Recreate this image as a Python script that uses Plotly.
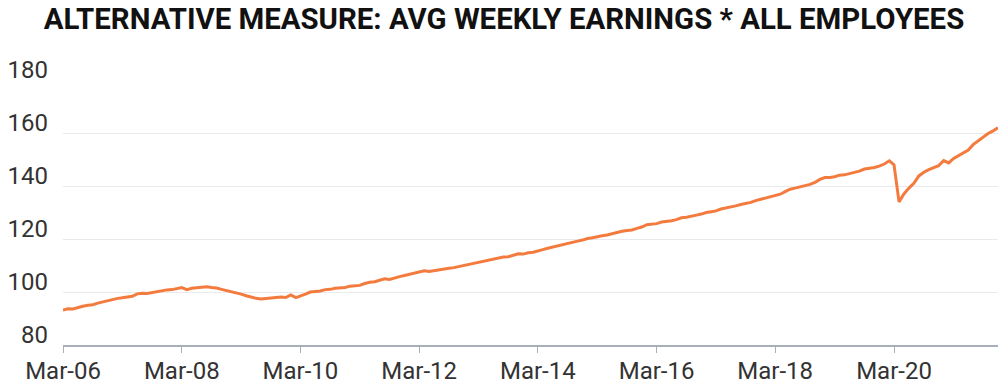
import plotly.graph_objects as go
import pandas as pd

start_month = "2006-03-01"
values = [
    # Mar-06 .. Feb-07
    93.2, 93.7, 93.6, 94.2, 94.6, 95.0, 95.2, 95.8, 96.3, 96.6, 97.1, 97.6,
    # Mar-07 .. Feb-08
    97.8, 98.1, 98.4, 99.3, 99.5, 99.4, 99.8, 99.9, 100.3, 100.8, 100.9, 101.2,
    # Mar-08 .. Feb-09
    101.7, 100.9, 101.4, 101.6, 101.7, 102.0, 101.7, 101.5, 101.0, 100.6, 100.2, 99.6,
    # Mar-09 .. Feb-10
    99.2, 98.6, 98.0, 97.6, 97.4, 97.6, 97.8, 97.9, 98.1, 97.9, 98.9, 97.9,
    # Mar-10 .. Feb-11
    98.4, 99.2, 100.0, 100.2, 100.4, 100.9, 101.0, 101.4, 101.6, 101.7, 102.2, 102.4,
    # Mar-11 .. Feb-12
    102.5, 103.2, 103.7, 103.9, 104.4, 105.0, 104.7, 105.3, 105.8, 106.2, 106.6, 107.1,
    # Mar-12 .. Feb-13
    107.6, 108.0, 107.7, 108.1, 108.4, 108.7, 109.0, 109.2, 109.6, 110.0, 110.6, 111.0,
    # Mar-13 .. Feb-14
    111.3, 111.8, 111.9, 112.5, 112.8, 113.2, 113.3, 113.9, 114.4, 114.3, 114.8, 115.0,
    # Mar-14 .. Feb-15
    115.6, 116.0, 116.5, 117.0, 117.5, 118.0, 118.3, 118.9, 119.2, 119.6, 120.2, 120.5,
    # Mar-15 .. Feb-16
    120.7, 121.2, 121.5, 122.0, 122.5, 122.9, 123.2, 123.4, 124.0, 124.5, 125.4, 125.6,
    # Mar-16 .. Feb-17
    125.8, 126.4, 126.6, 126.9, 127.3, 128.0, 128.2, 128.5, 129.0, 129.4, 130.0, 130.3,
    # Mar-17 .. Feb-18
    130.6, 131.3, 131.6, 132.0, 132.5, 133.0, 133.4, 133.8, 134.5, 135.0, 135.4, 136.0,
    # Mar-18 .. Feb-19
    136.3, 136.9, 137.9, 138.8, 139.2, 139.6, 140.1, 140.6, 141.4, 142.5, 143.2, 143.2,
    # Mar-19 .. Feb-20
    143.5, 144.1, 144.2, 144.6, 145.1, 145.6, 146.4, 146.6, 147.0, 147.5, 148.3, 149.5,
    # Mar-20 .. Feb-21
    148.0, 134.0, 137.0, 139.2, 141.0, 143.8, 145.2, 146.2, 147.0, 147.7, 149.6, 148.7,
    # Mar-21 .. Dec-21
    150.3, 151.4, 152.2, 153.6, 155.6, 157.0, 158.6, 159.8, 160.8, 162.0,
]
dates = pd.date_range(start_month, periods=len(values), freq="MS")

tick_dates = pd.date_range("2006-03-01", "2020-03-01", freq="24MS")
tick_labels = [d.strftime("%b-%y") for d in tick_dates]
y_ticks = [80, 100, 120, 140, 160, 180]

title_text = "ALTERNATIVE MEASURE: AVG WEEKLY EARNINGS * ALL EMPLOYEES"

fig = go.Figure()
fig.add_trace(go.Scatter(
    x=dates, y=values, mode="lines",
    line=dict(color="#F47B3E", width=3),
    showlegend=False,
))

fig.update_layout(
    width=1000, height=389,
    margin=dict(l=63, r=2, t=80, b=44, autoexpand=False),
    paper_bgcolor="white", plot_bgcolor="white",
    title=dict(
        text=title_text, x=0.504, xanchor="center", y=0.979, yanchor="top",
        font=dict(family="Roboto", size=29.4, color="#111111", weight="bold"),
    ),
    font=dict(family="Roboto", size=24, color="#333333"),
)
fig.update_xaxes(
    range=[dates[0], dates[-1]],
    tickvals=tick_dates, ticktext=tick_labels,
    showgrid=False, showline=True, linecolor="#A7AFB9", linewidth=2,
    ticks="outside", ticklen=6, tickcolor="#A7AFB9", tickwidth=1,
    ticklabelstandoff=-3,
    tickfont=dict(family="Roboto", size=24, color="#333333"),
)
fig.update_yaxes(
    range=[80, 180], tickvals=y_ticks,
    showgrid=True, gridcolor="#E8EAEC", gridwidth=1,
    zeroline=False, showline=False, ticks="",
    ticklabelstandoff=14, ticklabelshift=-10,
    tickfont=dict(family="Roboto", size=24, color="#333333"),
)

fig.write_html(
    "out.html",
    config={"displayModeBar": False},
    post_script="document.body.style.margin='0';",
)
